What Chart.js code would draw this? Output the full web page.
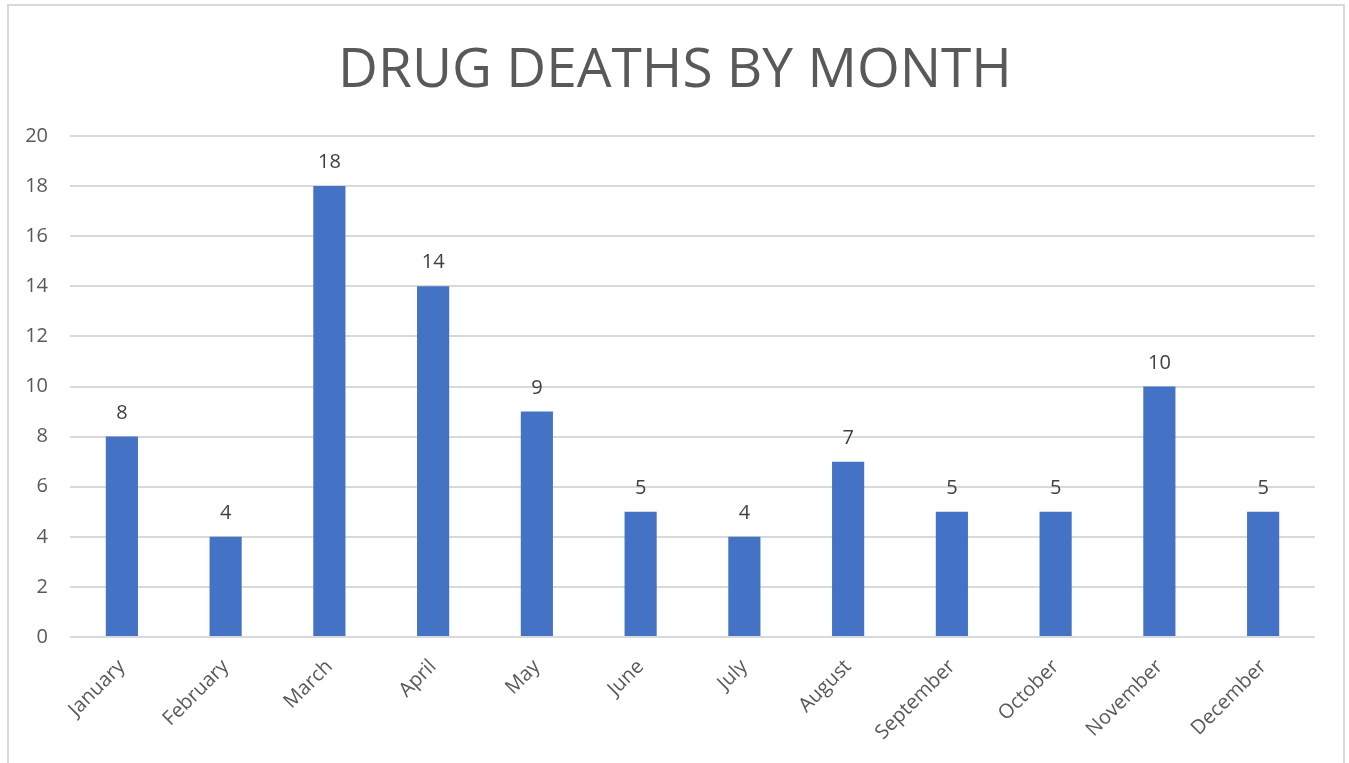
<!DOCTYPE html>
<html>
<head>
<meta charset="utf-8">
<script src="https://cdn.jsdelivr.net/npm/chart.js@4/dist/chart.umd.min.js"></script>
<style>
  html, body { margin: 0; padding: 0; background: #fff; }
  #wrap { width: 1349px; height: 763px; position: relative; }
</style>
</head>
<body>
<div id="wrap"><canvas id="myChart" width="1349" height="763"></canvas></div>
<script>
// Données
const months = ['January', 'February', 'March', 'April', 'May', 'June', 'July', 'August', 'September', 'October', 'November', 'December'];
const deaths = [8, 4, 18, 14, 9, 5, 4, 7, 5, 5, 10, 5];
const yTicks = [0, 2, 4, 6, 8, 10, 12, 14, 16, 18, 20];
const chartTitle = 'DRUG DEATHS BY MONTH';

const FONT = '"Open Sans", "Noto Sans", sans-serif';

// Cadre + titre
const framePlugin = {
    id: 'frame',
    beforeDraw(chart) {
        const c = chart.ctx;
        c.save();
        c.fillStyle = '#fff';
        c.fillRect(0, 0, chart.width, chart.height);
        c.strokeStyle = '#d9d9d9';
        c.lineWidth = 2;
        c.strokeRect(8, 5, 1336, 770);
        c.fillStyle = '#595959';
        c.font = '55px ' + FONT;
        c.textAlign = 'center';
        c.textBaseline = 'alphabetic';
        c.fillText(chartTitle, 675, 87);
        c.restore();
    }
};

// Étiquettes de valeurs au-dessus des barres
const valueLabels = {
    id: 'valueLabels',
    afterDatasetsDraw(chart) {
        const c = chart.ctx;
        const meta = chart.getDatasetMeta(0);
        c.save();
        c.fillStyle = '#404040';
        c.font = '20px ' + FONT;
        c.textAlign = 'center';
        c.textBaseline = 'alphabetic';
        meta.data.forEach((bar, i) => {
            c.fillText(String(deaths[i]), bar.x, bar.y - 18);
        });
        c.restore();
    }
};

new Chart(document.getElementById('myChart'), {
    type: 'bar',
    data: {
        labels: months,
        datasets: [{
            data: deaths,
            backgroundColor: '#4472C4',
            borderWidth: 0,
            categoryPercentage: 1,
            barPercentage: 0.31
        }]
    },
    options: {
        responsive: false,
        animation: false,
        layout: { padding: { top: 136, right: 34, left: 0, bottom: 0 } },
        plugins: { legend: { display: false }, tooltip: { enabled: false } },
        scales: {
            x: {
                afterFit: s => { s.height = 126; },
                grid: { display: false },
                border: { display: false },
                ticks: {
                    color: '#595959',
                    font: { size: 20, family: FONT },
                    minRotation: 45,
                    maxRotation: 45,
                    padding: 10
                }
            },
            y: {
                min: 0,
                max: 20,
                afterFit: s => { s.width = 70; },
                afterBuildTicks: s => { s.ticks = yTicks.map(v => ({ value: v })); },
                grid: { color: '#d9d9d9', lineWidth: 2, drawTicks: false },
                border: { display: false },
                ticks: {
                    color: '#595959',
                    font: { size: 20, family: FONT },
                    padding: 22
                }
            }
        }
    },
    plugins: [framePlugin, valueLabels]
});
</script>
</body>
</html>
